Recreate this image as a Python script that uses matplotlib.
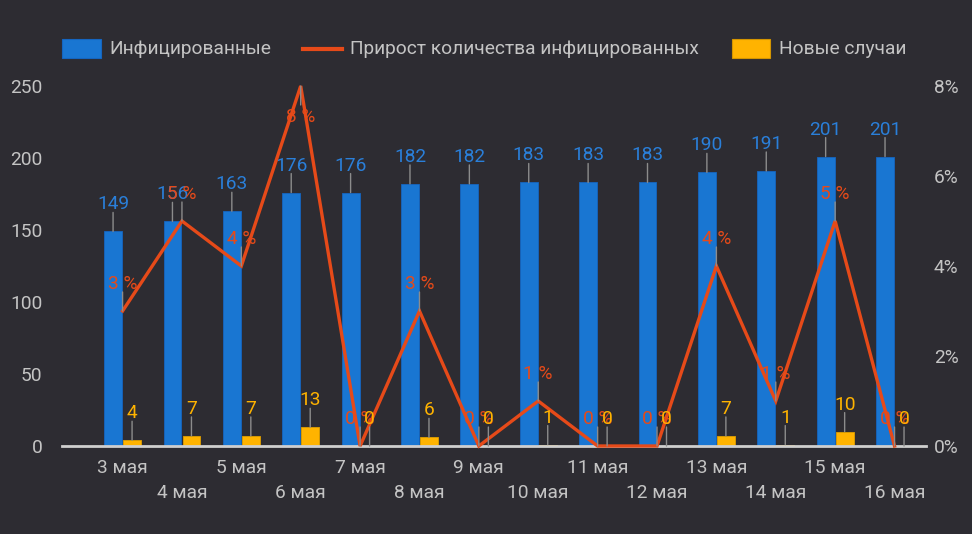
import matplotlib
matplotlib.use("Agg")
import matplotlib.pyplot as plt
from matplotlib.patches import Rectangle
from matplotlib.lines import Line2D

# ---- data ----
days = ["3 мая", "4 мая", "5 мая", "6 мая", "7 мая", "8 мая", "9 мая",
        "10 мая", "11 мая", "12 мая", "13 мая", "14 мая", "15 мая", "16 мая"]
infected = [149, 156, 163, 176, 176, 182, 182, 183, 183, 183, 190, 191, 201, 201]
growth_pct = [3, 5, 4, 8, 0, 3, 0, 1, 0, 0, 4, 1, 5, 0]
new_cases = [4, 7, 7, 13, 0, 6, 0, 1, 0, 0, 7, 1, 10, 0]
left_ticks = [0, 50, 100, 150, 200, 250]
right_ticks = [0, 2, 4, 6, 8]
legend_names = ["Инфицированные", "Прирост количества инфицированных", "Новые случаи"]

# ---- style ----
BG = "#2d2c32"
BLUE = "#1976d2"
BLUE_TXT = "#2a7fd9"
ORANGE = "#e64a19"
YELLOW = "#ffb300"
TXT = "#c4c4c4"
LEAD = "#8c8c8c"
FS = 13.8
plt.rcParams['font.family'] = ['Roboto', 'DejaVu Sans']

W, H = 972, 534
fig = plt.figure(figsize=(W / 100, H / 100), dpi=100, facecolor=BG)
x0, x1, ytop, ybot = 62, 926, 86, 446
ax = fig.add_axes([x0 / W, (H - ybot) / H, (x1 - x0) / W, (ybot - ytop) / H])
ax.set_facecolor(BG)
ax2 = ax.twinx()
ax2.set_facecolor("none")

xs = list(range(len(days)))
bw = 0.30
off = 0.16
xb = [x - off for x in xs]
xy_ = [x + off for x in xs]

ax.bar(xb, infected, width=bw, color=BLUE, edgecolor="#1565c0", linewidth=0.6, zorder=2)
ax.bar(xy_, new_cases, width=bw, color=YELLOW, edgecolor="#e0a000", linewidth=0.6, zorder=2)
ax2.plot(xs, growth_pct, color=ORANGE, lw=2.4, zorder=3, clip_on=False, solid_joinstyle='miter')

for a in (ax, ax2):
    a.set_xlim(-1.02, 13.53)
    for s in a.spines.values():
        s.set_visible(False)
ax.set_ylim(0, 250)
ax2.set_ylim(0, 8)
ax.spines['bottom'].set_visible(True)
ax.spines['bottom'].set_color("#cfcfcf")
ax.spines['bottom'].set_linewidth(2)

ax.set_yticks(left_ticks)
ax.set_yticklabels([str(t) for t in left_ticks])
ax.tick_params(axis='y', length=0, pad=14, labelsize=FS, labelcolor=TXT)
ax2.set_yticks(right_ticks)
ax2.set_yticklabels([f"{t}%" for t in right_ticks])
ax2.tick_params(axis='y', length=0, pad=5.5, labelsize=FS, labelcolor=TXT)
ax.set_xticks([])

# x labels, staggered
for i, d in enumerate(days):
    dy = -22 if i % 2 == 0 else -47
    ax.annotate(d, xy=(i, 0), xycoords=ax.get_xaxis_transform(), xytext=(0, dy),
                textcoords='offset pixels', ha='center', va='center',
                fontsize=FS, color=TXT, annotation_clip=False)


def label(a, x, y, txt, color, below=False):
    sgn = -1 if below else 1
    a.annotate('', xy=(x, y), xytext=(0, sgn * 19), textcoords='offset pixels',
               arrowprops=dict(arrowstyle='-', color=LEAD, lw=1, shrinkA=0, shrinkB=0),
               annotation_clip=False, zorder=5)
    if below:
        a.annotate(txt, xy=(x, y), xytext=(0, -22), textcoords='offset pixels',
                   ha='center', va='top', fontsize=FS, color=color,
                   annotation_clip=False, zorder=6)
    else:
        a.annotate(txt, xy=(x, y), xytext=(0, 22), textcoords='offset pixels',
                   ha='center', va='baseline', fontsize=FS, color=color,
                   annotation_clip=False, zorder=6)


for x, v in zip(xb, infected):
    label(ax, x, v, str(v), BLUE_TXT)
for x, v in zip(xs, growth_pct):
    label(ax2, x, v, f"{v} %", ORANGE, below=(v >= 8))
for x, v in zip(xy_, new_cases):
    label(ax2, x, v * 8 / 250, str(v), YELLOW)

# legend
ly = 49
fig.patches.append(Rectangle((62 / W, (H - 58) / H), 39 / W, 19 / H, transform=fig.transFigure,
                             facecolor=BLUE, edgecolor="#1565c0", lw=0.8))
fig.text(109 / W, (H - ly) / H, legend_names[0], fontsize=FS, color=TXT, va='center', ha='left')
fig.lines.append(Line2D([303 / W, 342 / W], [(H - ly) / H] * 2, transform=fig.transFigure,
                        color=ORANGE, lw=3))
fig.text(350 / W, (H - ly) / H, legend_names[1], fontsize=FS, color=TXT, va='center', ha='left')
fig.patches.append(Rectangle((732 / W, (H - 58) / H), 38 / W, 19 / H, transform=fig.transFigure,
                             facecolor=YELLOW, edgecolor="#d49500", lw=0.8))
fig.text(779 / W, (H - ly) / H, legend_names[2], fontsize=FS, color=TXT, va='center', ha='left')

fig.savefig("out.png", dpi=100, facecolor=BG)
